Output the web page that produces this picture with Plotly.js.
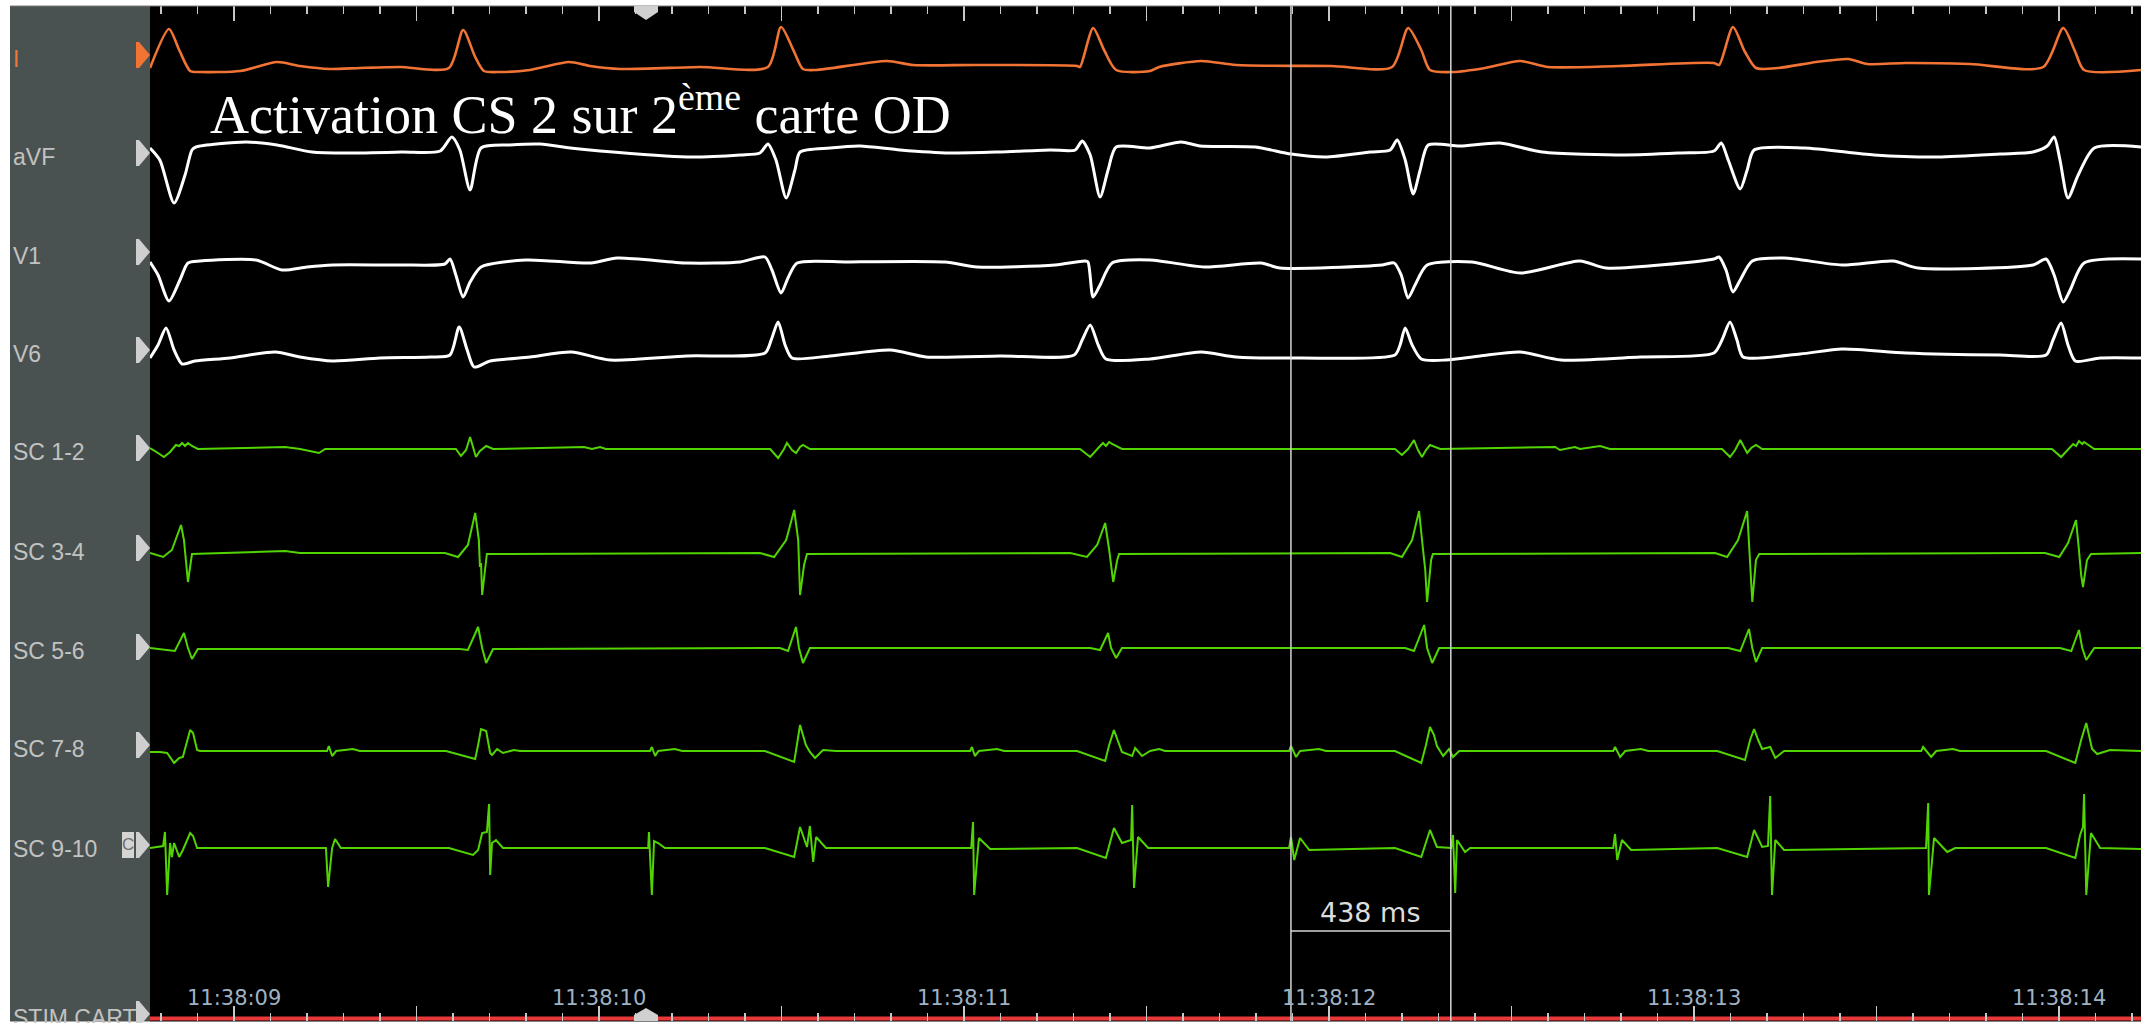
<!DOCTYPE html>
<html><head><meta charset="utf-8">
<script src="https://cdn.plot.ly/plotly-3.0.1.min.js"></script>
<style>html,body{margin:0;padding:0;background:#fff;overflow:hidden}#chart{width:2141px;height:1023px}</style>
</head><body><div id="chart"></div>
<script>
// ---- DATA: time in ms after 11:38:00, amplitude in display units ----
const t_I = [8770,8822,8850,8880,8907,9017,9118,9181,9263,9345,9455,9589,9628,9661,9685,9729,9811,9918,9976,10058,10277,10463,10499,10535,10559,10595,10789,10861,11036,11310,11318,11354,11384,11417,11510,11535,11650,11746,12006,12173,12217,12253,12277,12340,12428,12524,12601,12795,13055,13069,13107,13140,13170,13231,13335,13423,13475,13581,13757,13957,14012,14045,14069,14225];
const v_I = [0,39,18,-3,-4,-3,6,2,-1,0,1,0,38,11,-3,-4,-2,6,2,-1,1,1,41,16,-1,-2,7,3,3,2,1,40,18,-2,-3,1,7,3,2,1,40,18,-2,-4,0,7,1,2,5,3,41,16,0,0,6,9,4,5,4,1,40,16,-2,-2];

const t_aVF = [8770,8797,8836,8866,8885,8896,9033,9118,9214,9312,9460,9565,9597,9619,9647,9677,9756,9839,9921,10003,10241,10387,10441,10463,10485,10513,10537,10551,10633,10715,10825,10962,11099,11236,11305,11324,11346,11373,11395,11417,11510,11595,11647,11798,11896,11990,12113,12168,12187,12209,12231,12250,12272,12359,12469,12584,12812,12962,13055,13075,13094,13127,13146,13165,13302,13494,13669,13839,13929,13968,13987,14003,14025,14053,14097,14225];
const v_aVF = [2,-10,-53,-25,0,3,8,5,-2,-3,-2,-1,13,0,-40,2,5,6,2,-1,-7,-5,-3,6,-10,-48,-20,-2,2,4,0,-3,-2,0,0,9,-5,-47,-20,3,2,8,4,3,-4,-7,-2,0,10,-10,-44,-20,5,4,7,-2,-5,-3,-1,7,-10,-39,-20,0,2,-5,-7,-4,-2,4,13,-10,-48,-25,2,3];

const t_V1 = [8770,8792,8822,8852,8874,8907,9060,9132,9200,9271,9455,9578,9592,9608,9628,9647,9677,9800,9978,10050,10241,10387,10455,10474,10499,10518,10543,10683,10948,11036,11250,11332,11340,11354,11373,11406,11510,11658,11814,11866,12146,12179,12198,12217,12236,12269,12392,12524,12688,12759,13055,13069,13088,13107,13127,13160,13247,13406,13546,13614,13929,13965,13987,14012,14031,14069,14225];
const v_V1 = [1,-12,-38,-17,0,2,3,-7,-4,-2,-2,-1,4,-12,-34,-19,-4,3,0,5,0,1,6,-7,-30,-15,0,1,1,-4,-2,2,1,-34,-22,0,3,-4,0,-5,-2,0,-12,-35,-22,-2,1,-10,2,-5,4,6,-7,-29,-17,2,5,-2,2,-5,-2,4,-12,-39,-27,0,4];

const t_V6 = [8770,8792,8814,8836,8858,8893,8989,9113,9181,9271,9400,9537,9592,9617,9639,9658,9702,9811,9924,10030,10241,10455,10472,10491,10510,10529,10633,10798,10896,11099,11302,11324,11346,11368,11389,11510,11650,11746,11921,12181,12195,12209,12228,12253,12321,12414,12524,12636,12853,13055,13077,13099,13118,13135,13291,13406,13581,13839,13965,13984,14006,14025,14045,14113,14225];
const v_V6 = [0,13,30,8,-6,-3,0,6,1,-3,0,1,3,31,8,-9,-3,1,6,-2,2,5,18,36,13,0,2,8,1,2,3,18,33,13,-1,-1,6,1,0,3,13,30,13,-1,-2,2,6,-2,1,5,18,36,18,1,4,9,5,3,3,18,35,13,-3,0,0];

const t_SC12 = [8770,8775,8792,8808,8825,8841,8850,8858,8866,8874,8885,8901,9140,9181,9233,9250,9608,9622,9636,9647,9658,9663,9674,9691,9710,9959,9981,10003,10019,10469,10491,10507,10515,10529,10540,10551,10559,10578,11318,11346,11368,11381,11389,11398,11406,11433,12181,12200,12217,12233,12244,12255,12266,12277,12305,12620,12633,12674,12688,12743,12770,13077,13099,13113,13127,13138,13146,13157,13170,13187,13981,14006,14025,14039,14047,14055,14064,14069,14097,14225];
const v_SC12 = [1,0,-4,-8,-3,4,3,6,3,6,3,0,2,0,-4,0,0,-7,-1,12,-1,-8,-2,3,0,2,0,2,0,0,-9,0,6,-1,-4,2,4,0,0,-8,1,6,3,7,5,0,0,-6,0,9,-1,-8,-1,4,0,2,-1,2,0,3,0,0,-8,-1,9,1,-4,1,4,0,0,-8,-1,5,3,8,5,7,0,0];

const t_SC34 = [8770,8806,8830,8855,8863,8874,8885,9140,9181,9578,9614,9641,9661,9671,9674,9677,9680,9693,10441,10480,10513,10535,10546,10551,10562,10570,11291,11337,11365,11387,11398,11409,11420,11425,12168,12200,12228,12247,12258,12264,12269,12280,12285,13058,13091,13121,13146,13151,13154,13160,13170,13179,13962,14001,14025,14047,14055,14061,14066,14077,14088,14225];
const v_SC34 = [0,-4,3,28,13,-29,-1,2,0,0,-4,8,40,13,-14,-10,-42,-1,0,-4,13,43,13,-42,-12,-1,0,-4,8,30,3,-29,-7,-1,0,-4,13,42,3,-17,-49,-7,-1,0,-4,13,42,8,-17,-49,-7,-1,0,-4,10,33,3,-22,-34,-7,-1,0];

const t_SC56 = [8770,8825,8838,8863,8874,8885,8901,9619,9641,9669,9680,9691,9710,10496,10518,10540,10548,10559,10578,11346,11373,11395,11403,11417,11433,12209,12233,12261,12269,12283,12302,13094,13127,13151,13160,13170,13187,14003,14034,14055,14064,14075,14097,14225];
const v_SC56 = [0,-2,-3,15,0,-11,-1,-1,-2,21,0,-15,-1,0,-3,21,0,-15,0,0,-2,15,0,-10,0,0,-3,23,0,-15,0,0,-3,19,0,-14,0,0,-3,18,0,-12,0,0];

const t_SC78 = [8770,8797,8817,8836,8850,8860,8880,8888,8899,8907,9255,9260,9269,9280,9326,9345,9581,9661,9669,9677,9691,9702,9707,9721,9737,9767,9784,10140,10145,10154,10162,10208,10228,10455,10535,10543,10551,10567,10578,10592,10614,10650,11017,11022,11030,11041,11091,11110,11310,11387,11398,11411,11422,11433,11461,11469,11488,11510,11535,11551,11891,11896,11910,11921,11973,11992,12181,12253,12266,12277,12288,12296,12313,12329,12340,12357,12779,12784,12798,12812,12855,12875,13064,13140,13154,13165,13176,13187,13209,13223,13247,13623,13628,13650,13664,13710,13729,13965,14045,14061,14075,14086,14091,14105,14140,14225];
const v_SC78 = [-1,-1,-2,-12,-7,-6,21,18,1,0,0,5,-5,0,2,0,0,-8,6,22,20,-2,-4,2,-2,1,0,0,4,-5,0,2,0,0,-11,6,26,6,-1,-7,1,0,0,4,-5,0,2,0,0,-10,6,21,11,-1,-5,3,-5,0,2,0,0,5,-6,0,2,0,0,-12,6,24,16,5,-5,2,-6,0,0,4,-6,0,2,0,0,-9,11,22,11,2,4,-7,0,0,4,-6,0,2,0,0,-12,11,28,11,2,-3,1,0];

const t_SC910 = [8770,8806,8811,8817,8825,8830,8836,8850,8860,8880,8888,8899,9252,9258,9269,9277,9293,9589,9655,9669,9680,9693,9699,9702,9707,9718,9737,10135,10137,10145,10151,10162,10181,10455,10535,10551,10570,10578,10587,10595,10622,11020,11025,11028,11041,11072,11310,11389,11411,11433,11458,11461,11466,11477,11505,11891,11896,11905,11921,11946,12181,12253,12277,12296,12335,12340,12346,12351,12373,12387,12779,12784,12790,12803,12828,13064,13146,13165,13187,13203,13209,13214,13223,13247,13636,13642,13644,13658,13694,13716,13965,14045,14058,14066,14069,14075,14088,14113,14225];
const v_SC910 = [0,2,16,-47,5,-9,5,-9,-2,15,12,0,0,-39,0,9,0,0,-7,-2,15,16,44,-27,5,8,0,0,16,-47,7,5,0,0,-9,21,1,22,-14,11,0,0,26,-47,10,-1,0,-10,20,5,8,43,-40,11,0,0,11,-12,10,-2,0,-9,18,1,0,13,-45,8,-4,0,0,14,-12,8,-2,0,-9,18,1,2,52,-47,8,-2,0,45,-47,10,-4,0,0,-10,13,21,54,-47,15,0,-1];

const t_STIM = [8770,14225];
const v_STIM = [0,0];

const channelNames = ['I','aVF','V1','V6','SC 1-2','SC 3-4','SC 5-6','SC 7-8','SC 9-10','STIM CART'];
const secondTimes = [9000,10000,11000,12000,13000,14000];
const secondLabels = ['11:38:09','11:38:10','11:38:11','11:38:12','11:38:13','11:38:14'];
const cursorTimes = [11896,12334];
const intervalLabel = '438 ms';
const titleText = 'Activation CS 2 sur 2<sup>ème</sup> carte OD';

// ---- LAYOUT / STYLE ----
const W = 2141, H = 1023;
const plotTop = 6, plotBottom = 1021, plotLeft = 150;
const ORANGE = '#f27435', WHITE = '#ffffff', GREEN = '#52d402', RED = '#e8383a';
const series = [
  {t:t_I, v:v_I, color:ORANGE, w:2.6, base:68, arrow:55, smooth:true},
  {t:t_aVF, v:v_aVF, color:WHITE, w:3, base:150, arrow:153, smooth:true},
  {t:t_V1, v:v_V1, color:WHITE, w:3, base:263, arrow:252, smooth:true},
  {t:t_V6, v:v_V6, color:WHITE, w:3, base:358, arrow:350, smooth:true},
  {t:t_SC12, v:v_SC12, color:GREEN, w:2, base:449, arrow:448},
  {t:t_SC34, v:v_SC34, color:GREEN, w:2, base:553, arrow:548},
  {t:t_SC56, v:v_SC56, color:GREEN, w:2, base:648, arrow:647},
  {t:t_SC78, v:v_SC78, color:GREEN, w:2, base:751, arrow:745},
  {t:t_SC910, v:v_SC910, color:GREEN, w:2, base:848, arrow:845},
  {t:t_STIM, v:v_STIM, color:RED, w:4, base:1018.5, arrow:1014}
];
const X = px => px / W;
const Y = py => (H - py) / H;
const dom = [Y(plotBottom), Y(plotTop)];

const traces = [];
const layout = {
  width: W, height: H,
  margin: {l:0, r:0, t:0, b:0, pad:0},
  paper_bgcolor: '#000000', plot_bgcolor: '#000000',
  showlegend: false, hovermode: false,
  xaxis: {
    domain: [X(plotLeft), 1], range: [8770, 14225], anchor: 'y',
    showgrid: false, zeroline: false, showline: false, showticklabels: false,
    ticks: 'inside', tick0: 9000, dtick: 500, ticklen: 15, tickwidth: 1.5, tickcolor: '#c8c8c8',
    mirror: 'ticks',
    minor: {tick0: 9000, dtick: 100, ticks: 'inside', ticklen: 8, tickwidth: 1.3, tickcolor: '#c8c8c8', showgrid: false}
  },
  shapes: [], annotations: []
};

series.forEach((s, i) => {
  const id = i === 0 ? 'y' : 'y' + (i + 1);
  const key = i === 0 ? 'yaxis' : 'yaxis' + (i + 1);
  const ax = {domain: dom, range: [s.base - plotBottom, s.base - plotTop], visible: false, fixedrange: true, anchor: 'x'};
  if (i > 0) ax.overlaying = 'y';
  layout[key] = ax;
  traces.push({type:'scatter', mode:'lines', x:s.t, y:s.v, yaxis:id, xaxis:'x',
    line: s.smooth ? {color:s.color, width:s.w, shape:'spline', smoothing:0.7} : {color:s.color, width:s.w, shape:'linear'},
    hoverinfo:'skip'});
});

const poly = pts => 'M ' + pts.map(p => X(p[0]) + ',' + Y(p[1])).join(' L ') + ' Z';
const rect = (x0,y0,x1,y1,fill) => ({type:'rect', xref:'paper', yref:'paper', x0:X(x0), x1:X(x1), y0:Y(y1), y1:Y(y0), fillcolor:fill, line:{width:0}, layer:'above'});

// frame
layout.shapes.push(rect(10, 0, plotLeft, H, '#4a5251'));
layout.shapes.push(rect(0, 0, 10, H, '#ffffff'));
layout.shapes.push(rect(0, 0, W, plotTop, '#ffffff'));
layout.shapes.push(rect(0, plotBottom + 0.5, W, H, '#ffffff'));
layout.shapes.push({type:'line', xref:'paper', yref:'paper', x0:X(10), x1:1, y0:Y(plotTop), y1:Y(plotTop), line:{color:'#7a7a7a', width:1}, layer:'above'});

// channel arrows + labels
series.forEach((s, i) => {
  const c = s.arrow;
  layout.shapes.push({type:'path', xref:'paper', yref:'paper', layer:'above',
    path: poly([[136,c-13],[139,c-13],[150,c],[139,c+13],[136,c+13]]),
    fillcolor: i === 0 ? ORANGE : '#cfcfcf', line:{width:0}});
  layout.annotations.push({xref:'paper', yref:'paper', x:X(11), y:Y(c+4), xanchor:'left', yanchor:'middle',
    text: channelNames[i], showarrow:false,
    font:{family:'Liberation Sans, Arial, sans-serif', size:23, color: i === 0 ? ORANGE : '#c2c2c2'}});
});
// "C" box on SC 9-10
layout.shapes.push(rect(122, 832, 134, 858, '#d4d4d4'));
layout.annotations.push({xref:'paper', yref:'paper', x:X(128), y:Y(845), xanchor:'center', yanchor:'middle',
  text:'C', showarrow:false, font:{family:'Liberation Sans, Arial, sans-serif', size:17, color:'#6e6e6e'}});

// scroll markers top/bottom
layout.shapes.push({type:'path', xref:'paper', yref:'paper', layer:'above',
  path: poly([[634,6],[658,6],[658,12],[646,20],[634,12]]), fillcolor:'#d0d0d0', line:{width:0}});
layout.shapes.push({type:'path', xref:'paper', yref:'paper', layer:'above',
  path: poly([[634,1021],[634,1015],[646,1008],[658,1015],[658,1021]]), fillcolor:'#d0d0d0', line:{width:0}});

// cursors
cursorTimes.forEach(ct => layout.shapes.push({type:'line', xref:'x', yref:'paper', x0:ct, x1:ct, y0:Y(plotBottom), y1:Y(plotTop),
  line:{color:'#d6d6d6', width:1.5}, layer:'above'}));
layout.shapes.push({type:'line', xref:'x', yref:'paper', x0:cursorTimes[0], x1:cursorTimes[1], y0:Y(931), y1:Y(931),
  line:{color:'#d6d6d6', width:1.5}, layer:'above'});
layout.annotations.push({xref:'x', yref:'paper', x:(cursorTimes[0]+cursorTimes[1])/2, y:Y(912), xanchor:'center', yanchor:'middle',
  text:intervalLabel, showarrow:false, font:{family:'DejaVu Sans, sans-serif', size:27, color:'#dcdcdc'}});

// time labels
secondTimes.forEach((st, i) => layout.annotations.push({xref:'x', yref:'paper', x:st, y:Y(998), xanchor:'center', yanchor:'middle',
  text:secondLabels[i], showarrow:false, font:{family:'DejaVu Sans, sans-serif', size:21, color:'#9fb2c4'}}));

// title
layout.annotations.push({xref:'paper', yref:'paper', x:X(208), y:Y(110), xanchor:'left', yanchor:'middle',
  text:titleText, showarrow:false, font:{family:'Liberation Serif, Times New Roman, serif', size:54, color:'#ffffff'}});

Plotly.newPlot('chart', traces, layout, {staticPlot:true, displayModeBar:false});
</script></body></html>
